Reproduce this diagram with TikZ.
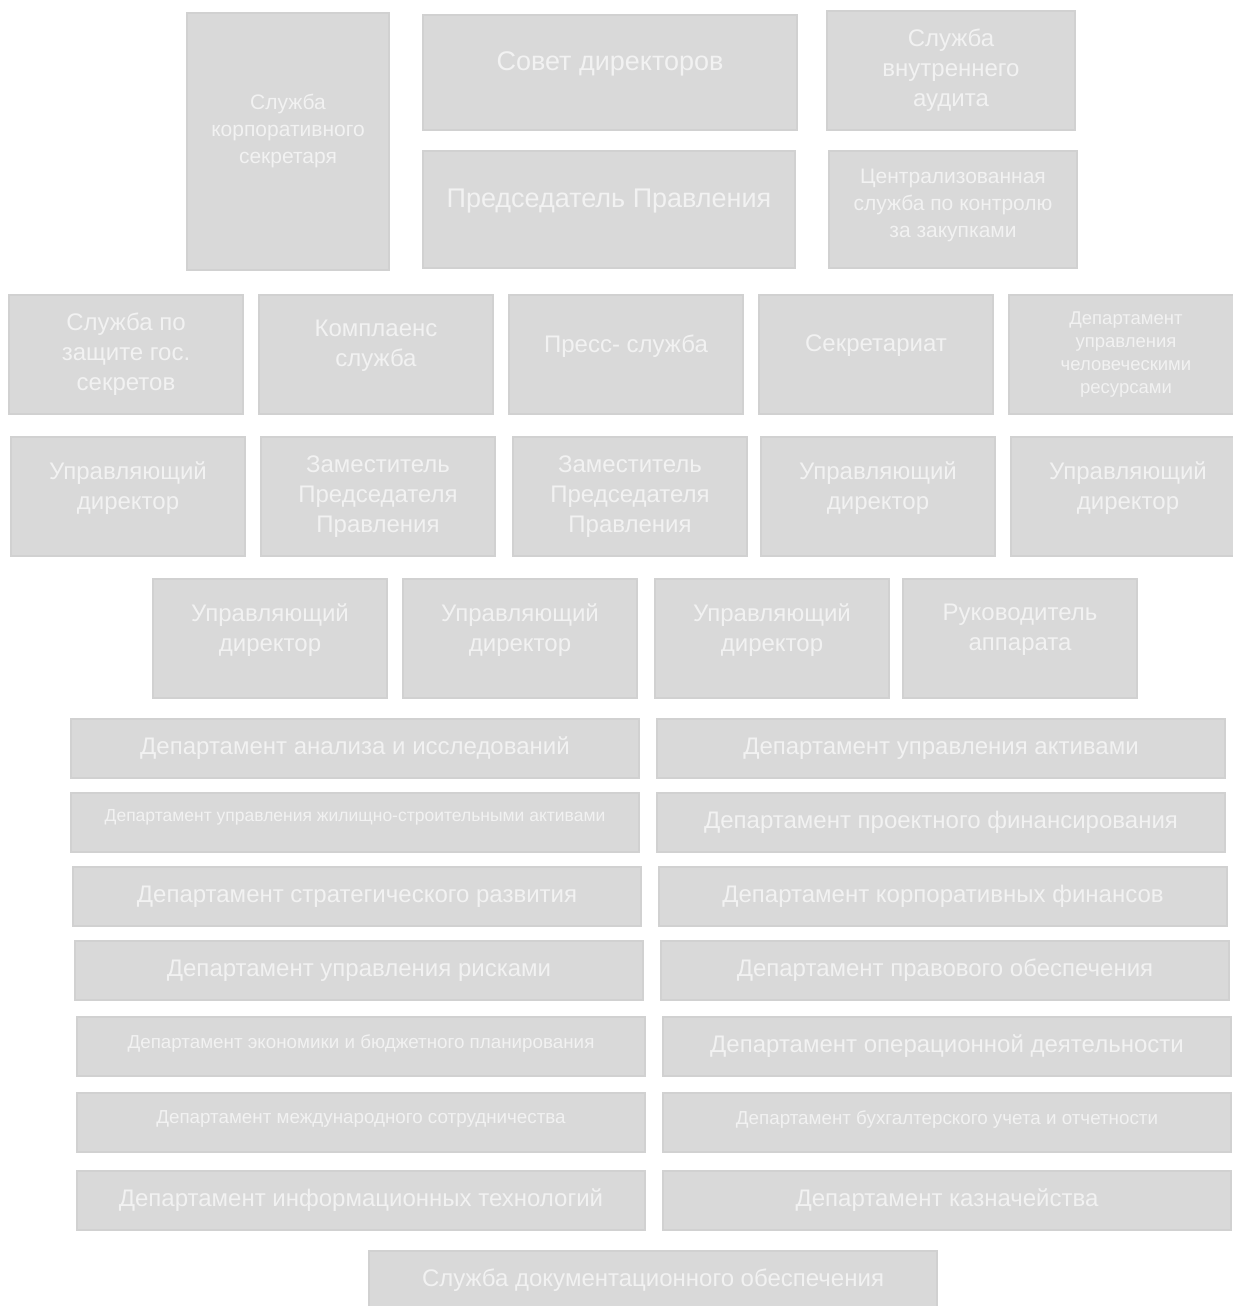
\documentclass[tikz,border=0pt]{standalone}
\usepackage{fontspec}
\setmainfont{Liberation Sans}
\definecolor{boxfill}{HTML}{D9D9D9}
\definecolor{boxline}{HTML}{D1D1D1}
\definecolor{boxtext}{HTML}{F2F2F2}
\newcommand{\fs}[2]{\fontsize{#1}{#2}\selectfont}
\begin{document}
\begin{tikzpicture}[x=1pt,y=-1pt,
  unit/.style={rectangle,fill=boxfill,draw=boxline,line width=1.2pt,text=boxtext,align=center,inner sep=0pt},
  big/.style={unit,minimum width=234pt,minimum height=119pt,font=\fs{24}{30}},
  dept/.style={unit,minimum width=568pt,minimum height=59pt,font=\fs{24}{30}},
  small/.style={font=\fs{18.8}{23}},
  lift/.style={text depth=#1}]
\useasboundingbox (0,0) rectangle (1232,1306);
\node[unit,minimum width=202pt,minimum height=257pt,font=\fs{21}{27},lift=25pt] (korpsek) at (288,141.5) {Служба\\корпоративного\\секретаря};
\node[unit,minimum width=374pt,minimum height=115pt,font=\fs{27}{32},lift=22pt] (sovet) at (610,72.5) {Совет директоров};
\node[unit,minimum width=248pt,minimum height=119pt,font=\fs{24}{30}] (audit) at (951,70.5) {Служба\\внутреннего\\аудита};
\node[unit,minimum width=372pt,minimum height=117pt,font=\fs{27}{32},lift=22pt] (pred) at (609,209.5) {Председатель Правления};
\node[unit,minimum width=248pt,minimum height=117pt,font=\fs{21}{27},lift=13pt] (zakup) at (953,209.5) {Централизованная\\служба по контролю\\за закупками};

\node[big] (gossek) at (126,354.5) {Служба по\\защите гос.\\секретов};
\node[big,lift=22pt] (kompl) at (376,354.5) {Комплаенс\\служба};
\node[big,lift=22pt] (press) at (626,354.5) {Пресс- служба};
\node[big,lift=22pt] (sekr) at (876,354.5) {Секретариат};
\node[big,font=\fs{18.5}{23}] (hr) at (1126,354.5) {Департамент\\управления\\человеческими\\ресурсами};

\node[big,lift=22pt] (ud1) at (128,496.5) {Управляющий\\директор};
\node[big] (zam1) at (378,496.5) {Заместитель\\Председателя\\Правления};
\node[big] (zam2) at (630,496.5) {Заместитель\\Председателя\\Правления};
\node[big,lift=22pt] (ud2) at (878,496.5) {Управляющий\\директор};
\node[big,lift=22pt] (ud3) at (1128,496.5) {Управляющий\\директор};

\node[big,lift=22pt] (ud4) at (270,638.5) {Управляющий\\директор};
\node[big,lift=22pt] (ud5) at (520,638.5) {Управляющий\\директор};
\node[big,lift=22pt] (ud6) at (772,638.5) {Управляющий\\директор};
\node[big,lift=22pt] (ruk) at (1020,638.5) {Руководитель\\аппарата};

\node[dept] (analiz) at (355,748.5) {Департамент анализа и исследований};
\node[dept] (aktiv) at (941,748.5) {Департамент управления активами};
\node[dept,font=\fs{17.5}{23},lift=14pt] (zhil) at (355,822.5) {Департамент управления жилищно-строительными активами};
\node[dept] (proekt) at (941,822.5) {Департамент проектного финансирования};
\node[dept] (strat) at (357,896.5) {Департамент стратегического развития};
\node[dept] (korpfin) at (943,896.5) {Департамент корпоративных финансов};
\node[dept] (risk) at (359,970.5) {Департамент управления рисками};
\node[dept] (pravo) at (945,970.5) {Департамент правового обеспечения};
\node[dept,small,lift=10pt] (ekon) at (361,1046.5) {Департамент экономики и бюджетного планирования};
\node[dept] (oper) at (947,1046.5) {Департамент операционной деятельности};
\node[dept,small,lift=10pt] (mezhd) at (361,1122.5) {Департамент международного сотрудничества};
\node[dept,small,lift=10pt] (buh) at (947,1122.5) {Департамент бухгалтерского учета и отчетности};
\node[dept] (it) at (361,1200.5) {Департамент информационных технологий};
\node[dept] (kazn) at (947,1200.5) {Департамент казначейства};
\node[dept] (dok) at (653,1280.5) {Служба документационного обеспечения};
\end{tikzpicture}
\end{document}
